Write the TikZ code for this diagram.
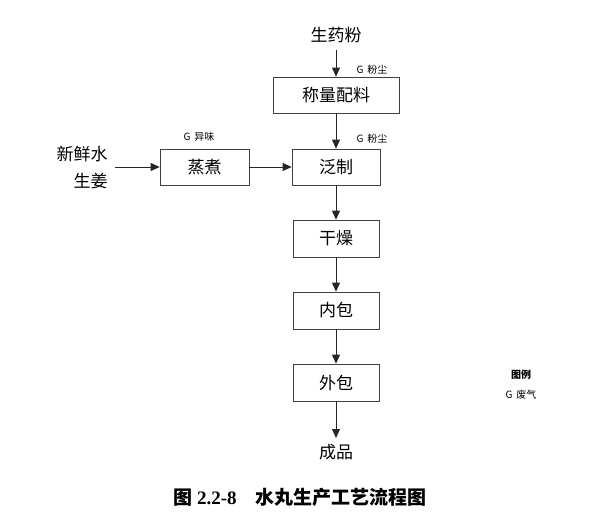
\documentclass[tikz,border=0pt]{standalone}
\usepackage{fontspec}
\setmainfont{Liberation Serif}
\newfontfamily\cjk{Noto Sans CJK SC}
\usetikzlibrary{arrows.meta}
\begin{document}
\begin{tikzpicture}[x=1pt,y=-1pt,
  proc/.style={draw=black!75,line width=0.7pt,inner sep=0pt,font=\cjk\fontsize{17}{19}\selectfont},
  flow/.style={draw=black!85,line width=0.9pt,-{Triangle[length=9pt,width=8pt]}},
  lbl/.style={inner sep=0pt,font=\cjk\fontsize{17}{19}\selectfont},
  small/.style={inner sep=0pt,font=\cjk\fontsize{10}{12}\selectfont}]
\useasboundingbox (0,0) rectangle (597,527);
\node[lbl] (raw) at (336,35) {生药粉};
\coordinate (rawend) at (336,50);
\node[proc,minimum width=126pt,minimum height=36pt] (weigh) at (336,95) {称量配料};
\node[proc,minimum width=88pt,minimum height=36pt] (pan) at (336,167) {泛制};
\node[proc,minimum width=89pt,minimum height=36pt] (steam) at (204.5,167) {蒸煮};
\node[proc,minimum width=86pt,minimum height=37pt] (dry) at (336,238.5) {干燥};
\node[proc,minimum width=86pt,minimum height=37pt] (inner) at (336,310.5) {内包};
\node[proc,minimum width=86pt,minimum height=37pt] (outer) at (336,382.5) {外包};
\node[lbl] (prod) at (336,452) {成品};
\coordinate (prodtop) at (336,438);
\node[lbl,align=right] (ginger) at (82,168) {新鲜水\\[8pt]生姜};
\coordinate (gstart) at (115,167);
\node[small] (g1) at (372,70) {G\, 粉尘};
\node[small] (g2) at (372,139) {G\, 粉尘};
\node[small] (g3) at (199,137) {G\, 异味};
\node[small,font=\cjk\bfseries\fontsize{10}{12}\selectfont] (leg) at (521,375) {图例};
\node[small] (leg2) at (521,395) {G\, 废气};
\draw[flow] (rawend) -- (weigh.north);
\draw[flow] (weigh.south) -- (pan.north);
\draw[flow] (gstart) -- (steam.west);
\draw[flow] (steam.east) -- (pan.west);
\draw[flow] (pan.south) -- (dry.north);
\draw[flow] (dry.south) -- (inner.north);
\draw[flow] (inner.south) -- (outer.north);
\draw[flow] (outer.south) -- (prodtop);
\node[inner sep=0pt,font=\fontsize{19}{21}\selectfont\bfseries] (cap) at (300,497) {{\cjk 图} 2.2-8\hspace{1em}{\cjk 水丸生产工艺流程图}};
\end{tikzpicture}
\end{document}
